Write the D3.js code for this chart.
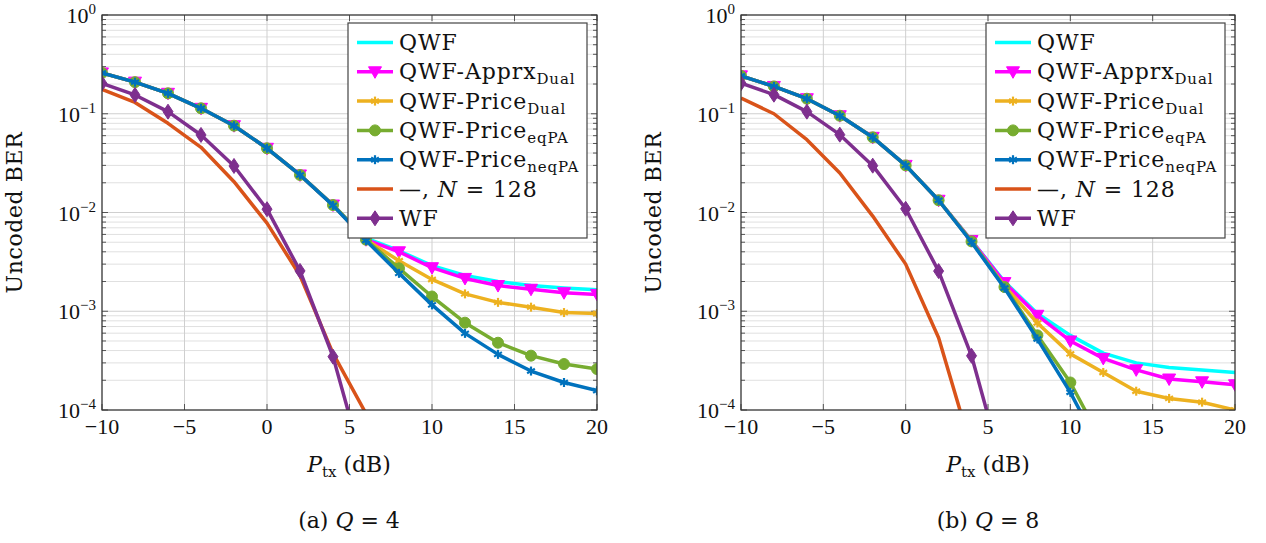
<!DOCTYPE html>
<html><head><meta charset="utf-8">
<script src="https://cdn.jsdelivr.net/npm/d3@7"></script>
<style>body{margin:0;background:#fff}svg{display:block}</style>
</head><body><svg id="c" width="1266" height="543"></svg>
<script>
// ---------- data ----------
const snr = [-10,-8,-6,-4,-2,0,2,4,6,8,10,12,14,16,18,20];
const xTicks = [-10,-5,0,5,10,15,20];
const yTickExps = [0,-1,-2,-3,-4];
const seriesLabels = ["QWF","QWF-Apprx_{Dual}","QWF-Price_{Dual}","QWF-Price_{eqPA}","QWF-Price_{neqPA}","\u2014, $N$ = 128","WF"];
const seriesColors = ["#00FFFF","#FF00FF","#EDB120","#77AC30","#0072BD","#D95319","#7E2F8E"];
const seriesMarkers = ["none","tri","star","circle","star","none","diamond"];
const xLabel = "$P$_{tx} (dB)";
const yLabel = "Uncoded BER";
const captions = ["(a) $Q$ = 4","(b) $Q$ = 8"];

// Q = 4
const q4QWF   = [0.259,0.209,0.161,0.1135,0.0757,0.0447,0.024,0.0119,0.0055,0.0041,0.0029,0.0023,0.0020,0.00182,0.00172,0.00165];
const q4Apprx = [0.259,0.209,0.161,0.1135,0.0757,0.0447,0.024,0.0119,0.0053,0.0040,0.00276,0.00215,0.00182,0.00167,0.00154,0.00148];
const q4PrDual= [0.259,0.209,0.161,0.1135,0.0757,0.0447,0.024,0.0119,0.0053,0.00325,0.0021,0.0015,0.00123,0.0011,0.00097,0.00095];
const q4PrEq  = [0.259,0.209,0.161,0.1135,0.0757,0.0447,0.024,0.0119,0.0053,0.00272,0.00141,0.000766,0.00048,0.000355,0.000292,0.00026];
const q4PrNeq = [0.259,0.209,0.161,0.1135,0.0757,0.0447,0.024,0.0118,0.0052,0.00242,0.00116,0.000597,0.000366,0.000248,0.00019,0.000157];
const q4N128  = [0.177,0.130,0.080,0.0457,0.0205,0.0078,0.0023,0.000375,0.000092,null,null,null,null,null,null,null];
const q4WF    = [0.203,0.155,0.105,0.061,0.0296,0.0108,0.00256,0.000347,0.000022,null,null,null,null,null,null,null];

// Q = 8
const q8QWF   = [0.242,0.189,0.142,0.0955,0.0577,0.030,0.0133,0.0052,0.0020,0.00095,0.00057,0.000377,0.0003,0.00027,0.000254,0.00024];
const q8Apprx = [0.242,0.189,0.142,0.0955,0.0577,0.030,0.0133,0.0052,0.00195,0.00091,0.0005,0.000333,0.000255,0.000206,0.000193,0.00018];
const q8PrDual= [0.242,0.189,0.142,0.0955,0.0577,0.030,0.0133,0.0051,0.0018,0.00076,0.00037,0.00024,0.000155,0.000131,0.00012,0.0001];
const q8PrEq  = [0.242,0.189,0.142,0.0955,0.0577,0.030,0.0133,0.0051,0.00176,0.00057,0.00019,0.000045,null,null,null,null];
const q8PrNeq = [0.242,0.189,0.142,0.0955,0.0577,0.030,0.0133,0.0050,0.00172,0.000524,0.000151,0.000035,null,null,null,null];
const q8N128  = [0.144,0.1,0.0546,0.0251,0.0092,0.003,0.00054,0.00004,null,null,null,null,null,null,null,null];
const q8WF    = [0.204,0.156,0.105,0.0614,0.0298,0.0109,0.00255,0.000354,0.000022,null,null,null,null,null,null,null];

// ---------- layout ----------
const panels = [
  {left:102, right:597, top:15, bottom:410, cx:349, series:[q4QWF,q4Apprx,q4PrDual,q4PrEq,q4PrNeq,q4N128,q4WF], caption:captions[0], ylabX:22},
  {left:741, right:1235, top:15, bottom:410, cx:988, series:[q8QWF,q8Apprx,q8PrDual,q8PrEq,q8PrNeq,q8N128,q8WF], caption:captions[1], ylabX:661}
];
const WORD = "'DejaVu Serif', serif";
const NUM = "'Liberation Serif', serif";
const svg = d3.select("#c");

// rich text: _{sub}, $italic$
function rich(textSel, str, size, subSize){
  const re = /(_\{[^}]*\})|(\$[^$]*\$)|([^_$]+)/g;
  let m, sub=false;
  while((m = re.exec(str))){
    if(m[1]){
      textSel.append("tspan").attr("font-size",subSize).attr("dy",5).text(m[1].slice(2,-1));
      sub=true;
    } else {
      const t = textSel.append("tspan");
      if(sub){ t.attr("dy",-5); sub=false; }
      if(m[2]) t.attr("font-style","italic").text(m[2].slice(1,-1));
      else t.text(m[3]);
    }
  }
}

function drawMarker(g, type, color, x, y){
  if(type==="tri"){
    g.append("path").attr("d",`M${x-6.5},${y-5}L${x+6.5},${y-5}L${x},${y+6.5}Z`).attr("fill",color).attr("stroke",color).attr("stroke-width",1);
  } else if(type==="circle"){
    g.append("circle").attr("cx",x).attr("cy",y).attr("r",5.5).attr("fill",color).attr("stroke",color);
  } else if(type==="diamond"){
    g.append("path").attr("d",`M${x},${y-7.5}L${x+5},${y}L${x},${y+7.5}L${x-5},${y}Z`).attr("fill",color).attr("stroke",color);
  } else if(type==="star"){
    [90,30,150].forEach(a=>{
      const r=4.5, dx=r*Math.cos(a*Math.PI/180), dy=r*Math.sin(a*Math.PI/180);
      g.append("line").attr("x1",x-dx).attr("y1",y-dy).attr("x2",x+dx).attr("y2",y+dy)
        .attr("stroke",color).attr("stroke-width",2.2);
    });
  }
}

panels.forEach((p,pi)=>{
  const x = d3.scaleLinear().domain([-10,20]).range([p.left,p.right]);
  const y = d3.scaleLog().domain([1e-4,1]).range([p.bottom,p.top]);
  const g = svg.append("g");

  // grid
  const minor=[];
  for(let k=-4;k<0;k++) for(let m=2;m<=9;m++) minor.push(m*Math.pow(10,k));
  g.selectAll(".gm").data(minor).enter().append("line")
    .attr("x1",p.left).attr("x2",p.right).attr("y1",d=>y(d)).attr("y2",d=>y(d))
    .attr("stroke","#e0e0e0").attr("stroke-width",1);
  g.selectAll(".gM").data(yTickExps).enter().append("line")
    .attr("x1",p.left).attr("x2",p.right).attr("y1",d=>y(Math.pow(10,d))).attr("y2",d=>y(Math.pow(10,d)))
    .attr("stroke","#cfcfcf").attr("stroke-width",1);
  g.selectAll(".gx").data(xTicks).enter().append("line")
    .attr("y1",p.top).attr("y2",p.bottom).attr("x1",d=>x(d)).attr("x2",d=>x(d))
    .attr("stroke","#cfcfcf").attr("stroke-width",1);

  // ticks (inward, all sides)
  const tk = g.append("g").attr("stroke","#555").attr("stroke-width",1);
  minor.forEach(v=>{
    tk.append("line").attr("x1",p.left).attr("x2",p.left+4).attr("y1",y(v)).attr("y2",y(v));
    tk.append("line").attr("x1",p.right).attr("x2",p.right-4).attr("y1",y(v)).attr("y2",y(v));
  });
  yTickExps.forEach(e=>{
    const v=Math.pow(10,e);
    tk.append("line").attr("x1",p.left).attr("x2",p.left+6).attr("y1",y(v)).attr("y2",y(v));
    tk.append("line").attr("x1",p.right).attr("x2",p.right-6).attr("y1",y(v)).attr("y2",y(v));
  });
  xTicks.forEach(v=>{
    tk.append("line").attr("x1",x(v)).attr("x2",x(v)).attr("y1",p.bottom).attr("y2",p.bottom-6);
    tk.append("line").attr("x1",x(v)).attr("x2",x(v)).attr("y1",p.top).attr("y2",p.top+6);
  });

  // clip
  const cid="clip"+pi;
  svg.append("clipPath").attr("id",cid).append("rect")
    .attr("x",p.left).attr("y",p.top).attr("width",p.right-p.left).attr("height",p.bottom-p.top);
  const plot = g.append("g").attr("clip-path",`url(#${cid})`);

  const line = d3.line().defined(d=>d[1]!=null).x(d=>x(d[0])).y(d=>y(d[1]));
  p.series.forEach((vals,si)=>{
    const pts = snr.map((s,i)=>[s,vals[i]]);
    plot.append("path").attr("d",line(pts)).attr("fill","none")
      .attr("stroke",seriesColors[si]).attr("stroke-width",3.5)
      .attr("stroke-linejoin","round").attr("stroke-linecap","butt");
    const mg = plot.append("g");
    pts.filter(d=>d[1]!=null).forEach(d=>drawMarker(mg,seriesMarkers[si],seriesColors[si],x(d[0]),y(d[1])));
  });

  // frame
  g.append("rect").attr("x",p.left).attr("y",p.top).attr("width",p.right-p.left).attr("height",p.bottom-p.top)
    .attr("fill","none").attr("stroke","#333").attr("stroke-width",1.2);

  // tick labels
  xTicks.forEach(v=>{
    g.append("text").attr("x",x(v)).attr("y",p.bottom+24).attr("text-anchor","middle")
      .attr("font-family",NUM).attr("font-size",22).attr("fill","#111")
      .text(v<0?"\u2212"+Math.abs(v):String(v));
  });
  yTickExps.forEach(e=>{
    const t=g.append("text").attr("x",p.left-6).attr("y",y(Math.pow(10,e))+8).attr("text-anchor","end")
      .attr("font-family",NUM).attr("font-size",22).attr("fill","#111");
    t.append("tspan").text("10");
    t.append("tspan").attr("dy",-9).attr("font-size",15).text(e<0?"\u2212"+Math.abs(e):String(e));
  });

  // axis labels
  const xl = g.append("text").attr("x",p.cx).attr("y",472).attr("text-anchor","middle")
    .attr("font-family",WORD).attr("font-size",22).attr("fill","#111");
  rich(xl,xLabel,22,15);
  g.append("text").attr("transform",`translate(${p.ylabX},${(p.top+p.bottom)/2}) rotate(-90)`)
    .attr("text-anchor","middle").attr("font-family",WORD).attr("font-size",22).attr("letter-spacing",0.6)
    .attr("fill","#111").text(yLabel);
  const cap = g.append("text").attr("x",p.cx).attr("y",528).attr("text-anchor","middle")
    .attr("font-family",WORD).attr("font-size",22).attr("fill","#111");
  rich(cap,p.caption,22,15);

  // legend
  const lw=239, lh=215, lx=p.right-10-lw, ly=p.top+8;
  const lg = g.append("g");
  lg.append("rect").attr("x",lx).attr("y",ly).attr("width",lw).attr("height",lh)
    .attr("fill","#fff").attr("stroke","#444").attr("stroke-width",1.2);
  seriesLabels.forEach((lab,i)=>{
    const ry = ly+19.5+i*29.3;
    lg.append("line").attr("x1",lx+9).attr("x2",lx+45).attr("y1",ry).attr("y2",ry)
      .attr("stroke",seriesColors[i]).attr("stroke-width",3.5);
    drawMarker(lg,seriesMarkers[i],seriesColors[i],lx+27,ry);
    const t = lg.append("text").attr("x",lx+51).attr("y",ry+7.5)
      .attr("font-family",WORD).attr("font-size",22).attr("letter-spacing",0.9).attr("fill","#111");
    rich(t,lab,22,15);
  });
});
</script></body></html>
